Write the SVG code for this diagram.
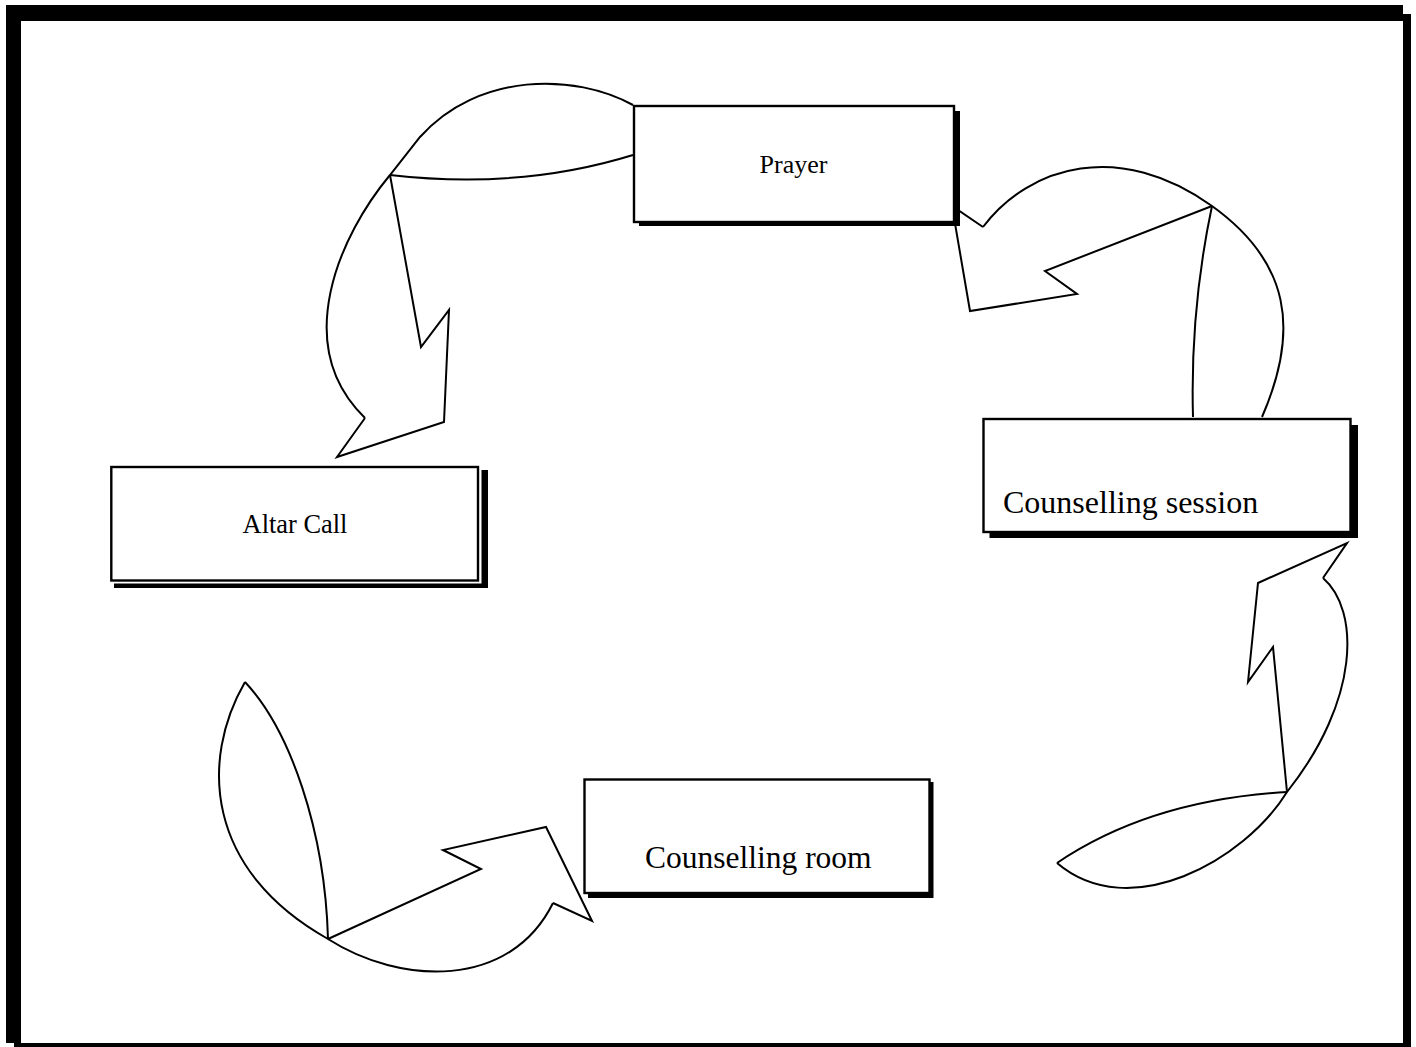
<svg xmlns="http://www.w3.org/2000/svg" width="1416" height="1047" viewBox="0 0 1416 1047">
<style>
.arrow{fill:none;stroke:#000;stroke-width:2;stroke-linejoin:miter}
.box{fill:#fff;stroke:#000;stroke-width:2.4}
.shadow{fill:#000}
.lbl{font-family:"Liberation Serif","Times New Roman",serif;fill:#000}
</style>
<rect width="1416" height="1047" fill="#fff"/>
<g id="frame">
<rect x="6" y="5" width="1397" height="16" fill="#000"/>
<rect x="6" y="5" width="15" height="1038" fill="#000"/>
<rect x="1403" y="14" width="8" height="1033" fill="#000"/>
<rect x="14" y="1043" width="1397" height="4" fill="#000"/>
</g>
<g id="connectors">
<g id="arrow-prayer-altar">
<path class="arrow" d="M633,105 C575,73 478,72 420,137 L390,175 C340,235 290,345 365,418"/>
<path class="arrow" d="M390,175 Q520,190 633,155"/>
<polyline class="arrow" points="365,418 337,457 444,422 449,310 421,347 390,175"/>
</g>
<g id="arrow-session-prayer">
<path class="arrow" d="M983,227 C1030,165 1120,140 1212,206 C1290,262 1300,330 1262,417"/>
<path class="arrow" d="M1212,206 Q1190,310 1193,417"/>
<polyline class="arrow" points="983,227 952,206 970,311 1077,294 1045,271 1212,206"/>
</g>
<g id="arrow-room-session">
<path class="arrow" d="M1323,578 C1360,610 1360,700 1287,792 C1245,860 1130,925 1057,863"/>
<path class="arrow" d="M1057,863 Q1150,800 1287,792"/>
<polyline class="arrow" points="1323,578 1347,543 1258,583 1248,682 1273,647 1287,792"/>
</g>
<g id="arrow-altar-room">
<path class="arrow" d="M245,682 C200,760 205,870 328,939 C400,985 510,990 553,903"/>
<path class="arrow" d="M245,682 C290,730 325,830 328,939"/>
<polyline class="arrow" points="553,903 592,921 546,827 443,850 481,869 328,939"/>
</g>
</g>
<g id="node-prayer">
<rect class="shadow" x="639" y="111" width="321" height="115"/>
<rect class="box" x="634" y="106" width="320" height="116"/>
<text class="lbl" x="793.5" y="172.5" font-size="26" text-anchor="middle">Prayer</text>
</g>
<g id="node-session">
<rect class="shadow" x="989.5" y="425" width="368.5" height="113"/>
<rect class="box" x="983.5" y="419" width="367" height="113"/>
<text class="lbl" x="1003" y="513" font-size="32">Counselling session</text>
</g>
<g id="node-altar">
<rect class="shadow" x="114" y="470" width="374" height="118"/>
<rect x="108" y="464" width="373.5" height="119.5" fill="#fff"/>
<rect class="box" x="111.3" y="467" width="366.7" height="113.5"/>
<text class="lbl" x="295" y="533" font-size="26.4" text-anchor="middle">Altar Call</text>
</g>
<g id="node-room">
<rect class="shadow" x="588" y="782" width="345.5" height="116"/>
<rect class="box" x="584.5" y="779.5" width="345" height="113.5"/>
<text class="lbl" x="645" y="868" font-size="31.5">Counselling room</text>
</g>
</svg>
